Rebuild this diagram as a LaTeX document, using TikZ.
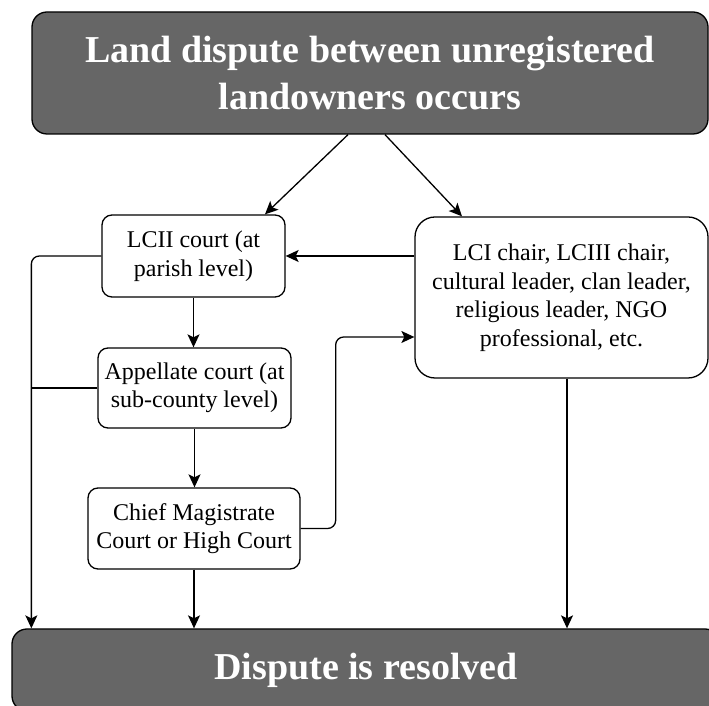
\documentclass[tikz,border=0pt]{standalone}
\usepackage{fontspec}
\setmainfont{Liberation Serif}
\usetikzlibrary{arrows.meta,positioning}
\definecolor{headgray}{RGB}{102,102,102}

\begin{document}
\begin{tikzpicture}[
  x=1pt, y=1pt,
  every node/.style={font=\fontsize{24}{28.5}\selectfont},
  box/.style={draw, line width=1.3pt, rounded corners=10pt, align=center, inner sep=0pt},
  headbox/.style={box, fill=headgray, text=white, rounded corners=15pt, font=\fontsize{38}{47}\selectfont\bfseries},
  arr/.style={-{Stealth[length=13pt,width=12pt,inset=3pt]}, line width=1.3pt},
  wire/.style={line width=1.3pt},
]
  \path[use as bounding box, clip] (0,0) rectangle (709,706);
  % start and end
  \node[headbox, minimum width=676pt, minimum height=122pt] (start) at (370,633) {Land dispute between unregistered\\landowners occurs};
  \node[headbox, minimum width=708pt, minimum height=82pt] (done) at (366,36) {Dispute is resolved};
  % courts -- left column
  \node[box, minimum width=183pt, minimum height=82pt] (lcii) at (193.5,450) {LCII court (at\\parish level)};
  \node[box, minimum width=193pt, minimum height=80pt] (appeal) at (194.5,318) {Appellate court (at\\sub-county level)};
  \node[box, minimum width=212pt, minimum height=81pt] (chief) at (194,177.5) {Chief Magistrate\\Court or High Court};
  % leaders -- right
  \node[box, rounded corners=20pt, minimum width=293pt, minimum height=161pt] (leaders) at (561.5,408.5) {LCI chair, LCIII chair,\\cultural leader, clan leader,\\religious leader, NGO\\professional, etc.};
  \coordinate (bus) at ([xshift=20pt]done.north west);
  % Arrows
  \draw[arr] ([xshift=-22pt]start.south) -- ([xshift=71.5pt]lcii.north);
  \draw[arr] ([xshift=15pt]start.south) -- ([xshift=-99.5pt]leaders.north);
  \draw[arr] (leaders.west |- lcii.east) -- (lcii.east);
  \draw[arr, rounded corners=8pt] (lcii.west) -| (bus);
  \draw[wire] (appeal.west) -- (appeal.west -| bus);
  \draw[arr] (lcii.south) -- (lcii.south |- appeal.north);
  \draw[arr] (appeal.south) -- (appeal.south |- chief.north);
  \draw[arr] (chief.south) -- (chief.south |- done.north);
  \draw[arr, rounded corners=8pt] (chief.east) -- ++(35pt,0) |- ([yshift=-39.5pt]leaders.west);
  \draw[arr] ([xshift=5.5pt]leaders.south) -- ([xshift=5.5pt]leaders.south |- done.north);
\end{tikzpicture}
\end{document}
